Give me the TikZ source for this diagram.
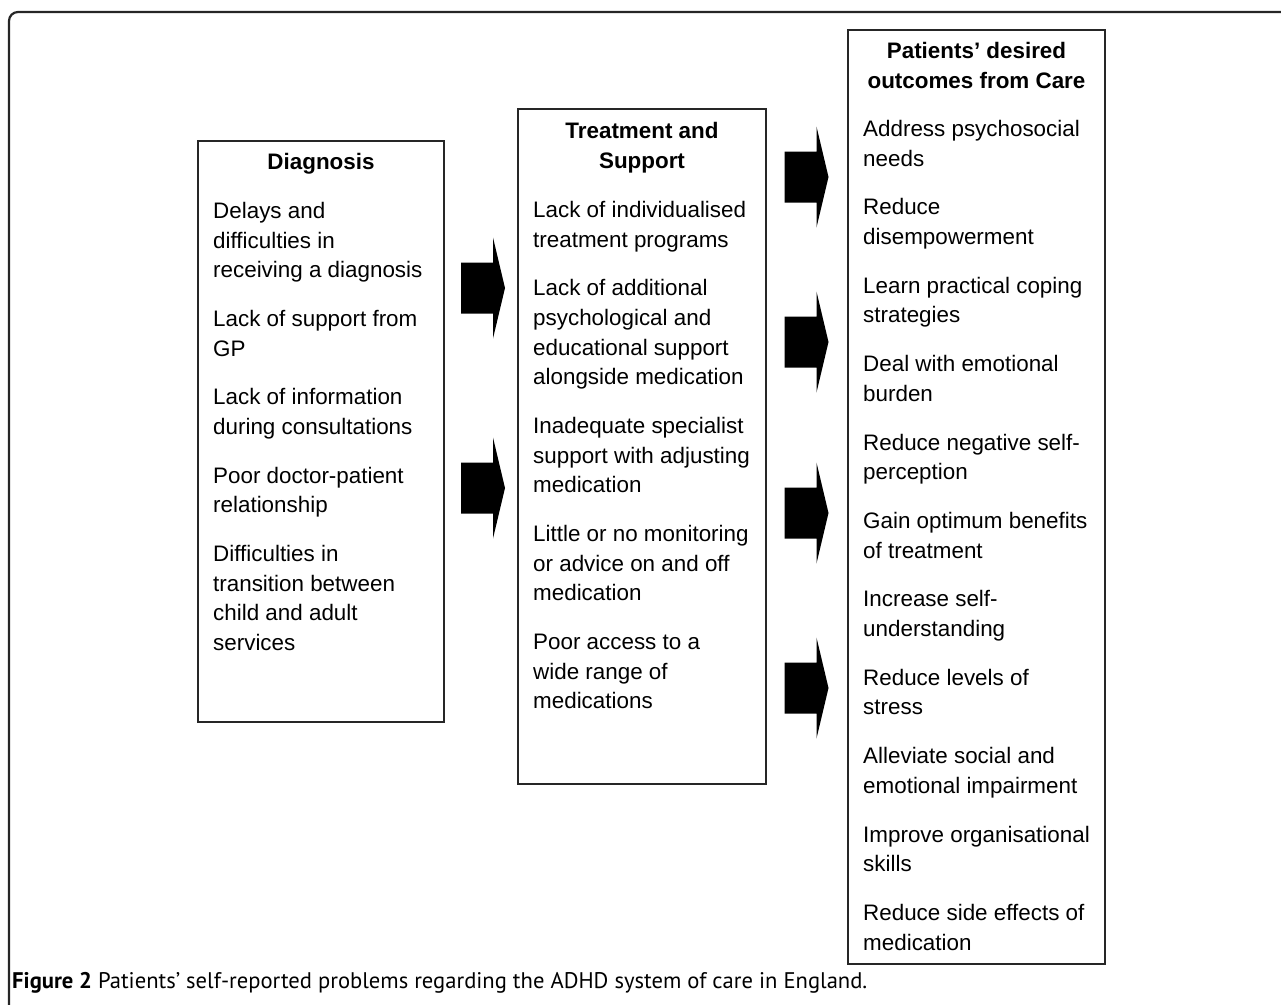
\documentclass[tikz,border=0pt]{standalone}
\usepackage{fontspec}
\setmainfont{Liberation Sans}
\newfontfamily\capfont{PT Sans}

\begin{document}
\begin{tikzpicture}[x=1pt, y=-1pt,
  every node/.style={inner sep=0pt, font=\fontsize{22.4}{29.6}\selectfont},
  panel/.style 2 args={draw=black!85, line width=1.6pt, minimum width=#1pt, minimum height=#2pt},
  heading/.style={align=center, font=\fontsize{22.4}{29.6}\selectfont\bfseries},
  items/.style={align=left, anchor=north west},
  blockarrow/.pic={\fill[black] (-22,-25.5) -- (10,-25.5) -- (10,-50.5) -- (22,0)
    -- (10,50.5) -- (10,25.5) -- (-22,25.5) -- cycle;}]
  \useasboundingbox (0,0) rectangle (1281,1004);
  \draw[black!85, line width=2.2pt, rounded corners=9pt] (9,1010) -- (9,12) -- (1290,12);

  \node[panel={246}{581}] (diag) at (321,431.5) {};
  \node[panel={248}{675}] (treat) at (642,446.5) {};
  \node[panel={257}{934}] (goals) at (976.5,497) {};

  \node[heading, anchor=base] (diaghead) at (321,169) {Diagnosis};
  \node[heading, anchor=north] (treathead) at (642,122) {Treatment and\\Support};
  \node[heading, anchor=north] (goalshead) at (976.5,42) {Patients’ desired\\outcomes from Care};

  \node[items] (diagitems) at (213,202) {Delays and\\difficulties in\\receiving a diagnosis\\[19.2pt]
    Lack of support from\\GP\\[19.2pt]
    Lack of information\\during consultations\\[19.2pt]
    Poor doctor-patient\\relationship\\[19.2pt]
    Difficulties in\\transition between\\child and adult\\services};
  \node[items] (treatitems) at (533,201) {Lack of individualised\\treatment programs\\[19.2pt]
    Lack of additional\\psychological and\\educational support\\alongside medication\\[19.2pt]
    Inadequate specialist\\support with adjusting\\medication\\[19.2pt]
    Little or no monitoring\\or advice on and off\\medication\\[19.2pt]
    Poor access to a\\wide range of\\medications};
  \node[items] (goalsitems) at (863,120) {Address psychosocial\\needs\\[19.2pt]
    Reduce\\disempowerment\\[19.2pt]
    Learn practical coping\\strategies\\[19.2pt]
    Deal with emotional\\burden\\[19.2pt]
    Reduce negative self-\\perception\\[19.2pt]
    Gain optimum benefits\\of treatment\\[19.2pt]
    Increase self-\\understanding\\[19.2pt]
    Reduce levels of\\stress\\[19.2pt]
    Alleviate social and\\emotional impairment\\[19.2pt]
    Improve organisational\\skills\\[19.2pt]
    Reduce side effects of\\medication};

  \pic (arrowa) at (483,288) {blockarrow};
  \pic (arrowb) at (483,488) {blockarrow};
  \pic (arrowc) at (806.5,177) {blockarrow};
  \pic (arrowd) at (806.5,342) {blockarrow};
  \pic (arrowe) at (806.5,513) {blockarrow};
  \pic (arrowf) at (806.5,688) {blockarrow};

  \node[anchor=base west, font=\capfont\fontsize{22.6}{26}\selectfont] (caption) at (12,988)
    {\textbf{Figure 2} Patients’ self-reported problems regarding the ADHD system of care in England.};
\end{tikzpicture}
\end{document}
